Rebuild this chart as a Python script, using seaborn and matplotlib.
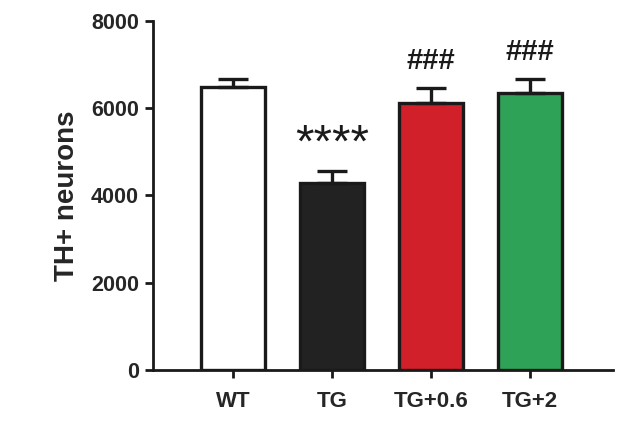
import matplotlib
matplotlib.use("Agg")
import matplotlib.pyplot as plt
import seaborn as sns
import pandas as pd
import numpy as np

categories = ["WT", "TG", "TG+0.6", "TG+2"]
means = [6480, 4290, 6120, 6340]
sems = [190, 275, 330, 320]
colors = ["#ffffff", "#222222", "#d2202a", "#2ea257"]
annotations = ["", "****", "###", "###"]
yticks = [0, 2000, 4000, 6000, 8000]

sns.set_theme(style="ticks")
plt.rcParams["font.family"] = ["Liberation Sans", "DejaVu Sans"]

df = pd.DataFrame({"group": categories, "value": means})

fig = plt.figure(figsize=(6.27, 4.41), dpi=100)
ax = fig.add_axes([0.244, 0.161, 0.734, 0.792])

sns.barplot(data=df, x="group", y="value", hue="group", palette=colors,
            legend=False, width=0.64, edgecolor="#1a1a1a", linewidth=2.4,
            errorbar=None, ax=ax, saturation=1)

x = np.arange(len(categories))
ax.errorbar(x, means, yerr=[np.zeros(len(sems)), sems], fmt="none",
            ecolor="#1a1a1a", elinewidth=2.4, capsize=11, capthick=2.4, zorder=1)

for xi, m, s, a in zip(x, means, sems, annotations):
    if not a:
        continue
    if a.startswith("*"):
        ax.text(xi, m + s + 600, a, ha="center", va="center", fontsize=34,
                color="#1a1a1a")
    else:
        ax.text(xi, m + s + 630, a, ha="center", va="center", fontsize=21,
                color="#1a1a1a", fontweight="bold")

ax.set_ylim(0, 8000)
ax.set_xlim(-0.81, 3.84)
ax.set_yticks(yticks)
ax.set_yticklabels([str(t) for t in yticks], fontsize=15.5, fontweight="bold")
ax.set_xticks(x)
ax.set_xticklabels(categories, fontsize=16, fontweight="bold")
ax.set_xlabel("")
ax.set_ylabel("TH+ neurons", fontsize=20, fontweight="bold", labelpad=8)
sns.despine(ax=ax)
for sp in ["left", "bottom"]:
    ax.spines[sp].set_linewidth(2)
    ax.spines[sp].set_color("#1a1a1a")
ax.tick_params(axis="both", width=2, length=6, color="#1a1a1a")
ax.tick_params(axis="x", pad=9)
ax.tick_params(axis="y", pad=4)

fig.savefig("out.png", dpi=100)
